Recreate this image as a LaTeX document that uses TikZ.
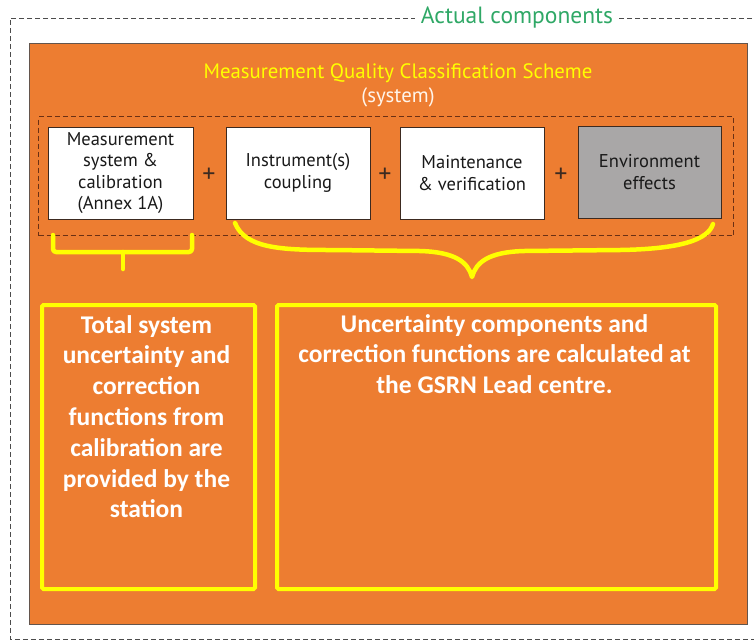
\documentclass[tikz,border=0pt]{standalone}
\usepackage{fontspec}
\setmainfont{PT Sans}
\newfontfamily\boldcal{Carlito}[UprightFont=* Bold]
\usetikzlibrary{positioning}
\definecolor{orangebg}{HTML}{ED7D31}
\definecolor{yel}{HTML}{FFFF00}
\definecolor{greentxt}{HTML}{2FA866}
\definecolor{darkbrown}{HTML}{6B3014}
\definecolor{boxline}{HTML}{3C2A20}
\definecolor{grayfill}{HTML}{A9A7A7}
\tikzset{
  comp/.style={draw=boxline, line width=0.9pt, fill=white, minimum width=144pt, minimum height=92pt, inner sep=0pt, align=center, font=\fontsize{18.5}{21.5}\selectfont, text=black!90},
  plussign/.style={font=\fontsize{26}{26}\selectfont, text=boxline, inner sep=0pt},
  yelbox/.style={draw=yel, line width=4pt, rounded corners=1.5pt, inner sep=0pt},
  yeltext/.style={text=white, align=center, font=\boldcal\fontsize{25.5}{30.8}\selectfont, inner sep=0pt, anchor=north},
  brace/.style={draw=yel, line width=4.5pt, line cap=round, line join=round},
}
\begin{document}
\begin{tikzpicture}[x=1pt,y=-1pt]
\useasboundingbox (0,0) rectangle (754,643);
\fill[white] (0,0) rectangle (754,643);
% outer dashed frame
\draw[black!70, line width=0.8pt, dash pattern=on 5pt off 3pt] (760,18) -- (10,18) -- (10,639) -- (760,639);
\node[fill=white, text=greentxt, font=\fontsize{23.5}{23.5}\selectfont, inner xsep=6pt, inner ysep=2pt] (actual) at (517,17) {Actual components};
% orange system rectangle
\node[draw=boxline!80, line width=0.8pt, fill=orangebg, minimum width=718pt, minimum height=581pt, inner sep=0pt, anchor=north west] (system) at (29,43) {};
\node[text=yel, font=\fontsize{20.8}{21}\selectfont, inner sep=0pt] (title) at (398,73) {Measurement Quality Classification Scheme};
\node[text=white!92!orange, font=\fontsize{20.8}{21}\selectfont, inner sep=0pt] (subtitle) at (398,97) {(system)};
% inner dashed rectangle
\node[draw=darkbrown, line width=1.2pt, dash pattern=on 5pt off 3pt, minimum width=695pt, minimum height=119pt, inner sep=0pt, anchor=north west] (group) at (38,116) {};
% component boxes
\node[comp, minimum width=145pt] (b1) at (120.5,173) {Measurement\\system \&\\calibration\\(Annex 1A)};
\node[comp] (b2) at (298,173) {Instrument(s)\\coupling};
\node[comp] (b3) at (472,173) {Maintenance\\\& verification};
\node[comp, fill=grayfill, minimum width=143pt] (b4) at (649.5,172) {Environment\\effects};
\node[plussign] (p1) at (209,175) {+};
\node[plussign] (p2) at (385,175) {+};
\node[plussign] (p3) at (561,175) {+};
% brackets
\coordinate (lbA) at (53,235);
\coordinate (lbB) at (192,235);
\coordinate (lbTip) at (123,269);
\draw[brace, rounded corners=3pt] (lbA) -- (53,252) -- (192,252) -- (lbB);
\draw[brace] (123,252) -- (lbTip);
\coordinate (rbA) at (235,223);
\coordinate (rbB) at (713,224);
\coordinate (rbTip) at (472,277);
\draw[brace] (rbA) .. controls (245,248) and (280,250) .. (330,250) -- (420,251) .. controls (455,252) and (468,262) .. (rbTip) .. controls (476,262) and (489,252) .. (524,251) -- (620,250) .. controls (680,249) and (708,240) .. (rbB);
% lower yellow boxes
\node[yelbox, minimum width=213pt, minimum height=284pt, anchor=north west] (left) at (40,303) {};
\node[yelbox, minimum width=439pt, minimum height=284pt, anchor=north west] (right) at (275,303) {};
\node[yeltext] (lefttext) at (146.5,315) {Total system\\uncertainty and\\correction\\functions from\\calibration are\\provided by the\\station};
\node[yeltext] (righttext) at (494.5,314) {Uncertainty components and\\correction functions are calculated at\\the GSRN Lead centre.};
\end{tikzpicture}
\end{document}
